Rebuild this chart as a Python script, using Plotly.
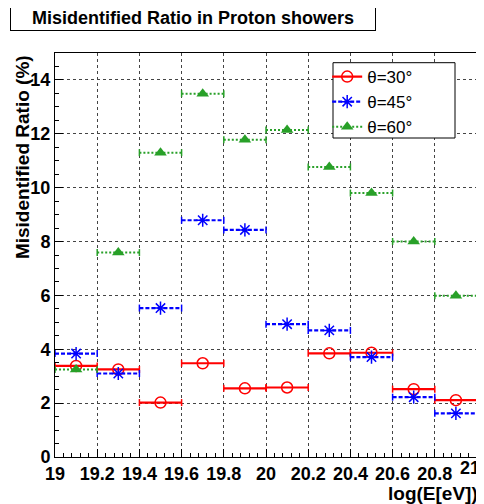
import plotly.graph_objects as go

# ---- data ----
bin_centers = [19.1, 19.3, 19.5, 19.7, 19.9, 20.1, 20.3, 20.5, 20.7, 20.9]
bin_width = 0.2
ratio_30 = [3.38, 3.25, 2.02, 3.48, 2.55, 2.58, 3.85, 3.87, 2.52, 2.11]
ratio_45 = [3.84, 3.10, 5.53, 8.79, 8.43, 4.93, 4.70, 3.71, 2.22, 1.62]
ratio_60 = [3.25, 7.59, 11.30, 13.49, 11.78, 12.14, 10.77, 9.80, 8.00, 5.99]
series_names = ["θ=30°", "θ=45°", "θ=60°"]
x_ticks = [19.0, 19.2, 19.4, 19.6, 19.8, 20.0, 20.2, 20.4, 20.6, 20.8, 21.0]
x_tick_labels = ["19", "19.2", "19.4", "19.6", "19.8", "20", "20.2", "20.4", "20.6", "20.8", "21"]
y_ticks = [0, 2, 4, 6, 8, 10, 12, 14]
y_tick_labels = ["0", "2", "4", "6", "8", "10", "12", "14"]

FONT = "Liberation Sans, Arial, Helvetica, sans-serif"

styles = [
    dict(color="rgb(255,0,0)", dash="solid", symbol="circle-open", size=11, mlw=1.5, lw=2.2),
    dict(color="rgb(0,0,255)", dash="4px,2px", symbol="asterisk-open", size=11, mlw=1.5, lw=2.2),
    dict(color="rgb(40,160,40)", dash="2px,2px", symbol="triangle-up", size=11, mlw=0, lw=2.0),
]

fig = go.Figure()

for name, vals, st in zip(series_names, [ratio_30, ratio_45, ratio_60], styles):
    seg_x, seg_y, cap_x, cap_y = [], [], [], []
    for c, v in zip(bin_centers, vals):
        lo, hi = c - bin_width / 2, c + bin_width / 2
        seg_x += [lo, hi, None]
        seg_y += [v, v, None]
        cap_x += [lo, hi]
        cap_y += [v, v]
    fig.add_trace(go.Scatter(x=seg_x, y=seg_y, mode="lines", showlegend=False,
                             line=dict(color=st["color"], width=st["lw"], dash=st["dash"]),
                             hoverinfo="skip"))
    fig.add_trace(go.Scatter(x=cap_x, y=cap_y, mode="markers", showlegend=False,
                             marker=dict(symbol="line-ns-open", size=5, color=st["color"],
                                         line=dict(color=st["color"], width=1.5)),
                             hoverinfo="skip"))
    fig.add_trace(go.Scatter(x=bin_centers, y=vals, mode="markers", showlegend=False,
                             marker=dict(symbol=st["symbol"], size=st["size"], color=st["color"],
                                         line=dict(color=st["color"], width=st["mlw"]))))
    # legend entry
    fig.add_trace(go.Scatter(x=[None], y=[None], mode="lines+markers", name=name,
                             line=dict(color=st["color"], width=st["lw"], dash=st["dash"]),
                             marker=dict(symbol=st["symbol"], size=st["size"], color=st["color"],
                                         line=dict(color=st["color"], width=st["mlw"]))))

TICK_FONT = dict(family=FONT, size=18, color="black", weight="bold")

axis_common = dict(
    showline=True, linecolor="black", linewidth=1, mirror=True,
    ticks="inside", tickcolor="black", ticklen=8, tickwidth=1,
    showgrid=True, gridcolor="#444", griddash="dot", gridwidth=1,
    zeroline=False, automargin=False,
    tickfont=TICK_FONT,
)

# last x label is placed right-aligned at the axis end (as in the reference) so it is not cut
x_ticktext_axis = x_tick_labels[:-1] + [""]

fig.update_xaxes(range=[19, 21], tickvals=x_ticks, ticktext=x_ticktext_axis,
                 minor=dict(ticks="inside", ticklen=4, dtick=0.04, tick0=19, tickcolor="black", showgrid=False),
                 **axis_common)
fig.update_yaxes(range=[0, 15], tickvals=y_ticks, ticktext=y_tick_labels,
                 minor=dict(ticks="inside", ticklen=4, dtick=0.5, tick0=0, tickcolor="black", showgrid=False),
                 **axis_common)

# page body adds an 8px offset; figure is sized so the plot lands where the reference has it
fig.update_layout(
    width=476, height=496,
    margin=dict(l=47, r=7, t=45, b=47, autoexpand=False),
    paper_bgcolor="white", plot_bgcolor="white",
    font=dict(family=FONT, color="black"),
    legend=dict(x=0.645, y=0.985, xanchor="left", yanchor="top",
                bgcolor="rgba(0,0,0,0)", borderwidth=0,
                font=dict(family=FONT, size=17, color="black"),
                tracegroupgap=0, itemwidth=30),
    shapes=[
        # legend frame
        dict(type="rect", xref="paper", yref="paper", layer="above",
             x0=0.6588, x1=0.9479, y0=0.7896, y1=0.976,
             fillcolor="white", line=dict(color="black", width=1)),
    ],
    annotations=[
        dict(text="Misidentified Ratio in Proton showers", xref="paper", yref="paper",
             x=0.327, y=1.0879, xanchor="center", yanchor="middle", showarrow=False,
             width=364, height=25, borderpad=0, bgcolor="white",
             bordercolor="black", borderwidth=1,
             font=dict(family=FONT, size=18, color="black", weight="bold")),
        dict(text=x_tick_labels[-1], xref="x", yref="paper",
             x=x_ticks[-1], y=-0.006, xanchor="right", yanchor="top", showarrow=False,
             xshift=4, height=16, borderpad=0, font=TICK_FONT),
        dict(text="log(E[eV])", xref="paper", yref="paper",
             x=1.007, y=-0.09, xanchor="right", yanchor="middle", showarrow=False,
             font=dict(family=FONT, size=19, color="black", weight="bold")),
        dict(text="Misidentified Ratio (%)", xref="paper", yref="paper",
             x=-0.078, y=1.0, xanchor="center", yanchor="top", textangle=-90, showarrow=False,
             font=dict(family=FONT, size=19, color="black", weight="bold")),
    ],
)

fig.write_html("out.html")
